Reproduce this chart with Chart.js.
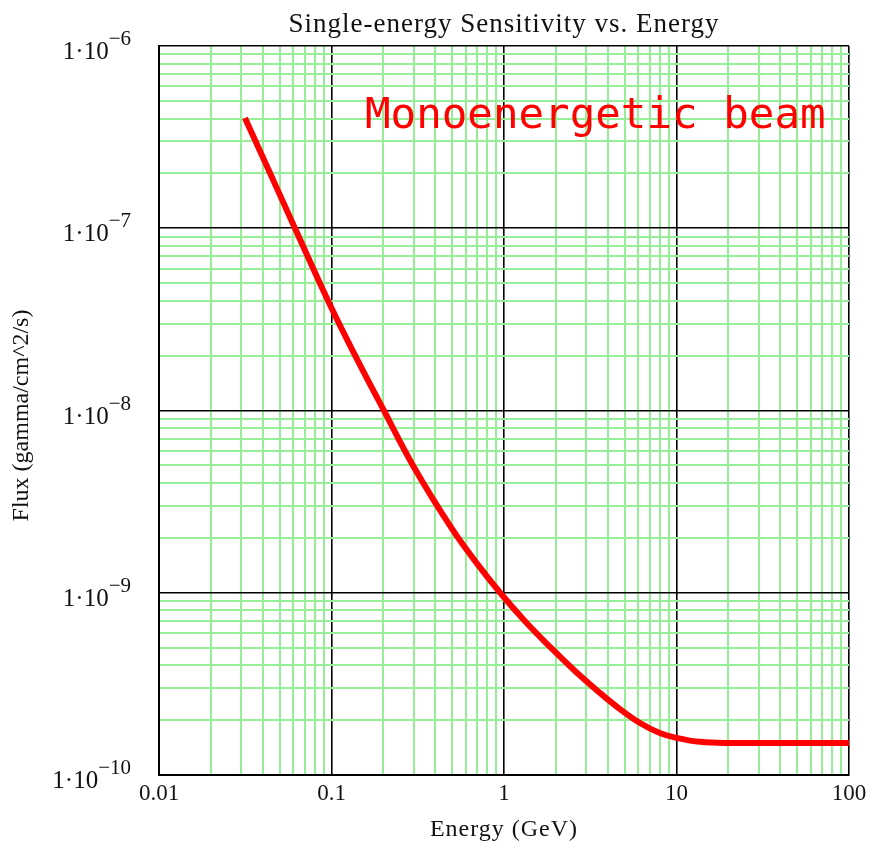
<!DOCTYPE html>
<html lang="en">
<head>
  <meta charset="UTF-8">
  <title>Single-energy Sensitivity vs. Energy</title>
  <script src="https://cdn.jsdelivr.net/npm/chart.js"></script>
  <style>
    body {
      margin: 0;
      background: #fff;
    }
    canvas {
      display: block;
    }
  </style>
</head>
<body>

<canvas id="chart" width="877" height="844"></canvas>

<script>
// values (GeV, gamma/cm^2/s)
const energy = [0.0315, 0.044, 0.0614, 0.1, 0.142, 0.199, 0.3, 0.5, 0.7, 0.95, 1.32, 1.85, 2.58, 3.6, 4.7, 6.14, 8.0, 10, 13.7, 20.4, 100];
const flux = [4.03e-7, 2.01e-7, 1.0e-7, 3.65e-8, 1.88e-8, 1.02e-8, 4.9e-9, 2.24e-9, 1.44e-9, 1.0e-9, 7.0e-10, 5.04e-10, 3.72e-10, 2.82e-10, 2.3e-10, 1.93e-10, 1.7e-10, 1.6e-10, 1.52e-10, 1.5e-10, 1.5e-10];

const xDecades = [0.01, 0.1, 1, 10, 100];
const xLabels = ["0.01", "0.1", "1", "10", "100"];
const yDecades = [1e-10, 1e-9, 1e-8, 1e-7, 1e-6];
const yExponents = ["\u221210", "\u22129", "\u22128", "\u22127", "\u22126"];

const titleText = "Single-energy Sensitivity vs. Energy";
const xTitle = "Energy (GeV)";
const yTitle = "Flux (gamma/cm^2/s)";
const noteText = "Monoenergetic beam";

const GREEN = "#96ee96";

function isDecade(v) {
  const l = Math.log10(v);
  return Math.abs(l - Math.round(l)) < 1e-6;
}

// 1..9 times each decade, so every grid line is there
function logTicks(decades) {
  const out = [];
  for (let i = 0; i < decades.length - 1; i++) {
    for (let m = 1; m < 10; m++) out.push({ value: decades[i] * m });
  }
  out.push({ value: decades[decades.length - 1] });
  return out;
}

function gridColor(ctx) {
  return ctx.tick && isDecade(ctx.tick.value) ? "#000" : GREEN;
}
function gridWidth(ctx) {
  return ctx.tick && isDecade(ctx.tick.value) ? 1.6 : 2;
}

const textPlugin = {
  id: "texts",
  afterDraw(chart) {
    const c = chart.ctx;
    const area = chart.chartArea;
    const ys = chart.scales.y;
    c.save();
    c.fillStyle = "#111";

    // title
    c.font = "27px 'Liberation Serif'";
    c.letterSpacing = "1px";
    c.textAlign = "center";
    c.textBaseline = "alphabetic";
    c.fillText(titleText, (area.left + area.right) / 2, 32);

    // x title
    c.font = "24px 'Liberation Serif'";
    c.fillText(xTitle, (area.left + area.right) / 2, 836);
    c.letterSpacing = "0px";

    // y title
    c.save();
    c.translate(28, (area.top + area.bottom) / 2 + 5);
    c.rotate(-Math.PI / 2);
    c.fillText(yTitle, 0, 0);
    c.restore();

    // y tick labels with raised exponent
    yDecades.forEach((v, i) => {
      const py = ys.getPixelForValue(v);
      c.textAlign = "right";
      c.font = "21px 'Liberation Serif'";
      const sup = yExponents[i];
      const supW = c.measureText(sup).width;
      c.fillText(sup, 131, py - 1);
      c.font = "25px 'Liberation Serif'";
      c.fillText("1\u00b710", 131 - supW, py + 13);
    });

    // red note
    c.fillStyle = "#ff0000";
    c.font = "42.5px 'DejaVu Sans Mono'";
    c.textAlign = "left";
    c.fillText(noteText, area.left + 206, area.top + 82);
    c.restore();
  }
};

Chart.defaults.font.family = "'Liberation Serif'";

new Chart(document.getElementById("chart"), {
  type: "line",
  data: {
    datasets: [{
      data: energy.map((e, i) => ({ x: e, y: flux[i] })),
      borderColor: "#ff0000",
      borderWidth: 6,
      pointRadius: 0,
      tension: 0.4,
      fill: false
    }]
  },
  options: {
    responsive: false,
    animation: false,
    layout: { padding: { top: 46, right: 28, left: 0, bottom: 0 } },
    plugins: {
      legend: { display: false },
      tooltip: { enabled: false }
    },
    scales: {
      x: {
        type: "logarithmic",
        min: 0.01,
        max: 100,
        afterBuildTicks: s => { s.ticks = logTicks(xDecades); },
        afterFit: s => { s.height = 69; },
        grid: { color: gridColor, lineWidth: gridWidth, drawTicks: false },
        border: { color: "#000", width: 2 },
        ticks: {
          autoSkip: false,
          maxRotation: 0,
          padding: 5,
          color: "#111",
          font: { size: 23 },
          callback: v => {
            const i = xDecades.findIndex(d => Math.abs(d - v) / d < 1e-6);
            return i >= 0 ? xLabels[i] : "";
          }
        }
      },
      y: {
        type: "logarithmic",
        min: 1e-10,
        max: 1e-6,
        afterBuildTicks: s => { s.ticks = logTicks(yDecades); },
        afterFit: s => { s.width = 159; },
        grid: { color: gridColor, lineWidth: gridWidth, drawTicks: false },
        border: { color: "#000", width: 2 },
        ticks: { display: false, autoSkip: false }
      }
    }
  },
  plugins: [textPlugin]
});
</script>

</body>
</html>
